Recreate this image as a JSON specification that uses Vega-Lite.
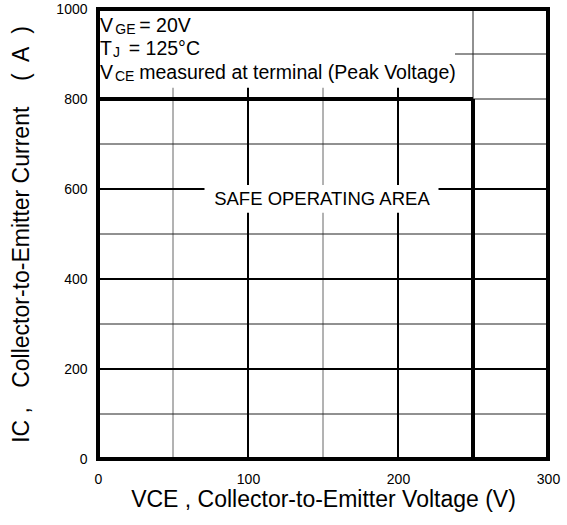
{
  "$schema": "https://vega.github.io/schema/vega-lite/v6.json",
  "width": 450,
  "height": 450,
  "autosize": {"type": "none"},
  "padding": {"left": 98, "top": 9, "right": 19, "bottom": 66},
  "background": "white",
  "config": {
    "view": {"stroke": null},
    "font": "Liberation Sans",
    "axis": {
      "grid": false, "ticks": false, "domain": false, "labelFlush": false, "format": "d",
      "labelFont": "Liberation Sans", "labelFontSize": 14, "labelColor": "black",
      "titleFont": "Liberation Sans", "titleFontSize": 23, "titleFontWeight": "normal", "titleColor": "black"
    }
  },
  "datasets": {
    "thinV": [{"v": 50}, {"v": 150}],
    "thinH": [{"i": 100}, {"i": 300}, {"i": 500}, {"i": 700}],
    "thinH900": [{"v": 238, "v2": 300, "i": 900}],
    "medV": [{"v": 100}, {"v": 200}],
    "medH": [{"i": 200}, {"i": 400}, {"i": 600}],
    "thinPartV": [{"v": 250, "i": 800, "i2": 1000}],
    "thinPartH": [{"v": 250, "v2": 300, "i": 800}],
    "thickV": [{"v": 250, "i": 0, "i2": 800}],
    "thickH": [{"v": 0, "v2": 250, "i": 800}],
    "boxes": [{"v": 0, "v2": 238, "i": 825, "i2": 1000}, {"v": 71, "v2": 227, "i": 547, "i2": 609}],
    "bigText": [
      {"v": 1.3, "i": 948, "t": "V"},
      {"v": 27.5, "i": 948, "t": "= 20V"},
      {"v": 1.3, "i": 898, "t": "T"},
      {"v": 20.5, "i": 898, "t": "= 125°C"},
      {"v": 1.3, "i": 844, "t": "V"},
      {"v": 27.5, "i": 844, "t": "measured at terminal (Peak Voltage)"}
    ],
    "subText": [
      {"v": 11.5, "i": 944, "t": "GE"},
      {"v": 10, "i": 894, "t": "J"},
      {"v": 11.3, "i": 841, "t": "CE"}
    ],
    "soa": [{"v": 149.3, "i": 578, "t": "SAFE OPERATING AREA"}],
    "borderV": [{"v": 0}, {"v": 300}],
    "borderH": [{"i": 0}, {"i": 1000}]
  },
  "encoding": {
    "x": {"type": "quantitative"},
    "y": {"type": "quantitative"}
  },
  "layer": [
    {
      "data": {"name": "thinV"},
      "mark": {"type": "rule", "color": "#666666", "strokeWidth": 1},
      "encoding": {
        "x": {"field": "v", "type": "quantitative",
          "scale": {"domain": [0, 300], "nice": false, "zero": true},
          "axis": {"values": [0, 100, 200, 300], "labelPadding": 13, "titlePadding": 2,
            "title": "VCE , Collector-to-Emitter Voltage (V)"}}
      }
    },
    {
      "data": {"name": "thinH"},
      "mark": {"type": "rule", "color": "#222222", "strokeWidth": 1},
      "encoding": {
        "y": {"field": "i", "type": "quantitative",
          "scale": {"domain": [0, 1000], "nice": false},
          "axis": {"values": [0, 200, 400, 600, 800, 1000], "labelPadding": 11, "titlePadding": 22,
            "title": "IC ,\u00a0\u00a0 Collector-to-Emitter Current\u00a0\u00a0\u00a0 (\u00a0 A\u00a0 )"}}
      }
    },
    {
      "data": {"name": "thinH900"},
      "mark": {"type": "rule", "color": "#222222", "strokeWidth": 1},
      "encoding": {
        "x": {"field": "v", "type": "quantitative"},
        "x2": {"field": "v2"},
        "y": {"field": "i", "type": "quantitative"}
      }
    },
    {
      "data": {"name": "medV"},
      "mark": {"type": "rule", "color": "black", "strokeWidth": 2},
      "encoding": {"x": {"field": "v", "type": "quantitative"}}
    },
    {
      "data": {"name": "medH"},
      "mark": {"type": "rule", "color": "black", "strokeWidth": 2},
      "encoding": {"y": {"field": "i", "type": "quantitative"}}
    },
    {
      "data": {"name": "thinPartV"},
      "mark": {"type": "rule", "color": "#222222", "strokeWidth": 1},
      "encoding": {
        "x": {"field": "v", "type": "quantitative"},
        "y": {"field": "i", "type": "quantitative"},
        "y2": {"field": "i2"}
      }
    },
    {
      "data": {"name": "thinPartH"},
      "mark": {"type": "rule", "color": "#222222", "strokeWidth": 1},
      "encoding": {
        "x": {"field": "v", "type": "quantitative"},
        "x2": {"field": "v2"},
        "y": {"field": "i", "type": "quantitative"}
      }
    },
    {
      "data": {"name": "boxes"},
      "mark": {"type": "rect", "color": "white", "opacity": 1},
      "encoding": {
        "x": {"field": "v", "type": "quantitative"},
        "x2": {"field": "v2"},
        "y": {"field": "i", "type": "quantitative"},
        "y2": {"field": "i2"}
      }
    },
    {
      "data": {"name": "thickV"},
      "mark": {"type": "rule", "color": "black", "strokeWidth": 4},
      "encoding": {
        "x": {"field": "v", "type": "quantitative"},
        "y": {"field": "i", "type": "quantitative"},
        "y2": {"field": "i2"}
      }
    },
    {
      "data": {"name": "thickH"},
      "mark": {"type": "rule", "color": "black", "strokeWidth": 4},
      "encoding": {
        "x": {"field": "v", "type": "quantitative"},
        "x2": {"field": "v2"},
        "y": {"field": "i", "type": "quantitative"}
      }
    },
    {
      "data": {"name": "borderV"},
      "mark": {"type": "rule", "color": "black", "strokeWidth": 4, "strokeCap": "square"},
      "encoding": {"x": {"field": "v", "type": "quantitative"}}
    },
    {
      "data": {"name": "borderH"},
      "mark": {"type": "rule", "color": "black", "strokeWidth": 4, "strokeCap": "square"},
      "encoding": {"y": {"field": "i", "type": "quantitative"}}
    },
    {
      "data": {"name": "bigText"},
      "mark": {"type": "text", "align": "left", "baseline": "alphabetic", "fontSize": 19.5, "color": "black", "font": "Liberation Sans"},
      "encoding": {
        "x": {"field": "v", "type": "quantitative"},
        "y": {"field": "i", "type": "quantitative"},
        "text": {"field": "t"}
      }
    },
    {
      "data": {"name": "subText"},
      "mark": {"type": "text", "align": "left", "baseline": "alphabetic", "fontSize": 14, "color": "black", "font": "Liberation Sans"},
      "encoding": {
        "x": {"field": "v", "type": "quantitative"},
        "y": {"field": "i", "type": "quantitative"},
        "text": {"field": "t"}
      }
    },
    {
      "data": {"name": "soa"},
      "mark": {"type": "text", "align": "center", "baseline": "middle", "fontSize": 18.5, "color": "black", "font": "Liberation Sans"},
      "encoding": {
        "x": {"field": "v", "type": "quantitative"},
        "y": {"field": "i", "type": "quantitative"},
        "text": {"field": "t"}
      }
    }
  ]
}
